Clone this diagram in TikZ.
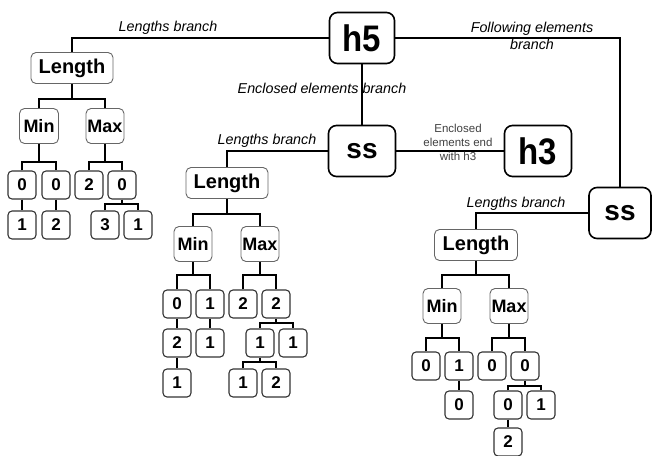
\documentclass[tikz,border=0pt]{standalone}
\usepackage{fontspec}
\setmainfont{Liberation Sans}
\begin{document}
\begin{tikzpicture}[x=1pt,y=-1pt,
  big/.style={draw, line width=1.6pt, rounded corners=8pt, minimum width=65pt,
    minimum height=51pt, inner sep=0pt, font=\bfseries\fontsize{33}{33}\selectfont},
  sbig/.style={big, font=\bfseries\fontsize{28}{28}\selectfont},
  mid/.style={draw=black!60, line width=0.9pt, rounded corners=5pt, minimum width=82pt,
    minimum height=31pt, inner sep=0pt, font=\bfseries\fontsize{20}{20}\selectfont},
  mm/.style={draw=black!60, line width=0.9pt, rounded corners=5pt, minimum width=38pt,
    minimum height=35pt, inner sep=0pt, font=\bfseries\fontsize{18}{18}\selectfont},
  leaf/.style={draw=black!80, line width=1.1pt, rounded corners=4pt, minimum width=28pt,
    minimum height=28pt, inner sep=0pt, font=\bfseries\fontsize{17}{17}\selectfont},
  lab/.style={font=\itshape\fontsize{14.3}{17}\selectfont, align=center},
  note/.style={font=\fontsize{11.5}{14}\selectfont, text=black!75, align=center},
  wire/.style={line width=2.3pt}]
\useasboundingbox (0,0) rectangle (652,455);

% main nodes
\node[big] (h5) at (362,38) {\scalebox{1}[1.12]{h5}};
\node[sbig, minimum width=67pt] (ss1) at (362,151) {ss};
\node[big, minimum width=67pt] (h3) at (538,151) {\scalebox{1}[1.12]{h3}};
\node[sbig, minimum width=62pt] (ss2) at (620,213) {ss};

% first lengths tree
\node[mid] (len1) at (72,68) {Length};
\node[mm, minimum width=39pt] (min1) at (39,126) {Min};
\node[mm] (max1) at (105,126) {Max};
\node[leaf] (a1) at (22,185) {0};
\node[leaf] (a2) at (56,185) {0};
\node[leaf] (a3) at (89,185) {2};
\node[leaf] (a4) at (122,185) {0};
\node[leaf] (a5) at (22,225) {1};
\node[leaf] (a6) at (56,225) {2};
\node[leaf] (a7) at (105,225) {3};
\node[leaf] (a8) at (138,225) {1};

% second lengths tree
\node[mid] (len2) at (227,183) {Length};
\node[mm] (min2) at (193,244) {Min};
\node[mm] (max2) at (260,244) {Max};
\node[leaf] (b1) at (177,304) {0};
\node[leaf] (b2) at (210,304) {1};
\node[leaf] (b3) at (243,304) {2};
\node[leaf] (b4) at (276,304) {2};
\node[leaf] (b5) at (177,343) {2};
\node[leaf] (b6) at (210,343) {1};
\node[leaf] (b7) at (260,343) {1};
\node[leaf] (b8) at (293,343) {1};
\node[leaf] (b9) at (177,383) {1};
\node[leaf] (b10) at (243,383) {1};
\node[leaf] (b11) at (276,383) {2};

% third lengths tree
\node[mid, minimum width=83pt] (len3) at (476,245) {Length};
\node[mm] (min3) at (442,306) {Min};
\node[mm] (max3) at (509,306) {Max};
\node[leaf] (c1) at (426,366) {0};
\node[leaf] (c2) at (459,366) {1};
\node[leaf] (c3) at (492,366) {0};
\node[leaf] (c4) at (525,366) {0};
\node[leaf] (c5) at (459,405) {0};
\node[leaf] (c6) at (508,405) {0};
\node[leaf] (c7) at (541,405) {1};
\node[leaf] (c8) at (508,442) {2};

% junction points
\coordinate (j1) at (72,99);
\coordinate (j2) at (39,162);
\coordinate (j3) at (105,162);
\coordinate (j4) at (122,204);
\coordinate (k1) at (227,214);
\coordinate (k2) at (193,275);
\coordinate (k3) at (260,275);
\coordinate (k4) at (276,323);
\coordinate (k5) at (260,362);
\coordinate (m1) at (476,275);
\coordinate (m2) at (442,338);
\coordinate (m3) at (509,338);
\coordinate (m4) at (525,386);

% branches between main nodes
\draw[wire] (h5.west) -| (len1.north);
\draw[wire] (h5.east) -| (ss2.north);
\draw[wire] (h5.south) -- (ss1.north);
\draw[wire] (ss1.east) -- (h3.west);
\draw[wire] (ss1.west) -| (len2.north);
\draw[wire] (ss2.west) -| (len3.north);

% tree connectors
\draw[wire] (len1.south) -- (j1);
\draw[wire] (min1.north) |- (j1) -| (max1.north);
\draw[wire] (min1.south) -- (j2);
\draw[wire] (a1.north) |- (j2) -| (a2.north);
\draw[wire] (max1.south) -- (j3);
\draw[wire] (a3.north) |- (j3) -| (a4.north);
\draw[wire] (a1.south) -- (a5.north);
\draw[wire] (a2.south) -- (a6.north);
\draw[wire] (a4.south) -- (j4);
\draw[wire] (a7.north) |- (j4) -| (a8.north);

\draw[wire] (len2.south) -- (k1);
\draw[wire] (min2.north) |- (k1) -| (max2.north);
\draw[wire] (min2.south) -- (k2);
\draw[wire] (b1.north) |- (k2) -| (b2.north);
\draw[wire] (max2.south) -- (k3);
\draw[wire] (b3.north) |- (k3) -| (b4.north);
\draw[wire] (b1.south) -- (b5.north);
\draw[wire] (b5.south) -- (b9.north);
\draw[wire] (b2.south) -- (b6.north);
\draw[wire] (b4.south) -- (k4);
\draw[wire] (b7.north) |- (k4) -| (b8.north);
\draw[wire] (b7.south) -- (k5);
\draw[wire] (b10.north) |- (k5) -| (b11.north);

\draw[wire] (len3.south) -- (m1);
\draw[wire] (min3.north) |- (m1) -| (max3.north);
\draw[wire] (min3.south) -- (m2);
\draw[wire] (c1.north) |- (m2) -| (c2.north);
\draw[wire] (max3.south) -- (m3);
\draw[wire] (c3.north) |- (m3) -| (c4.north);
\draw[wire] (c2.south) -- (c5.north);
\draw[wire] (c4.south) -- (m4);
\draw[wire] (c6.north) |- (m4) -| (c7.north);
\draw[wire] (c6.south) -- (c8.north);

% branch labels
\node[lab] (l1) at (168,28) {Lengths branch};
\node[lab] (l2) at (322,88) {Enclosed elements branch};
\node[lab] (l3) at (267,141) {Lengths branch};
\node[lab] (l4) at (532,36) {Following elements\\branch};
\node[lab] (l5) at (516,204) {Lengths branch};
\node[note] (l6) at (458,142) {Enclosed\\elements end\\with h3};
\end{tikzpicture}
\end{document}
